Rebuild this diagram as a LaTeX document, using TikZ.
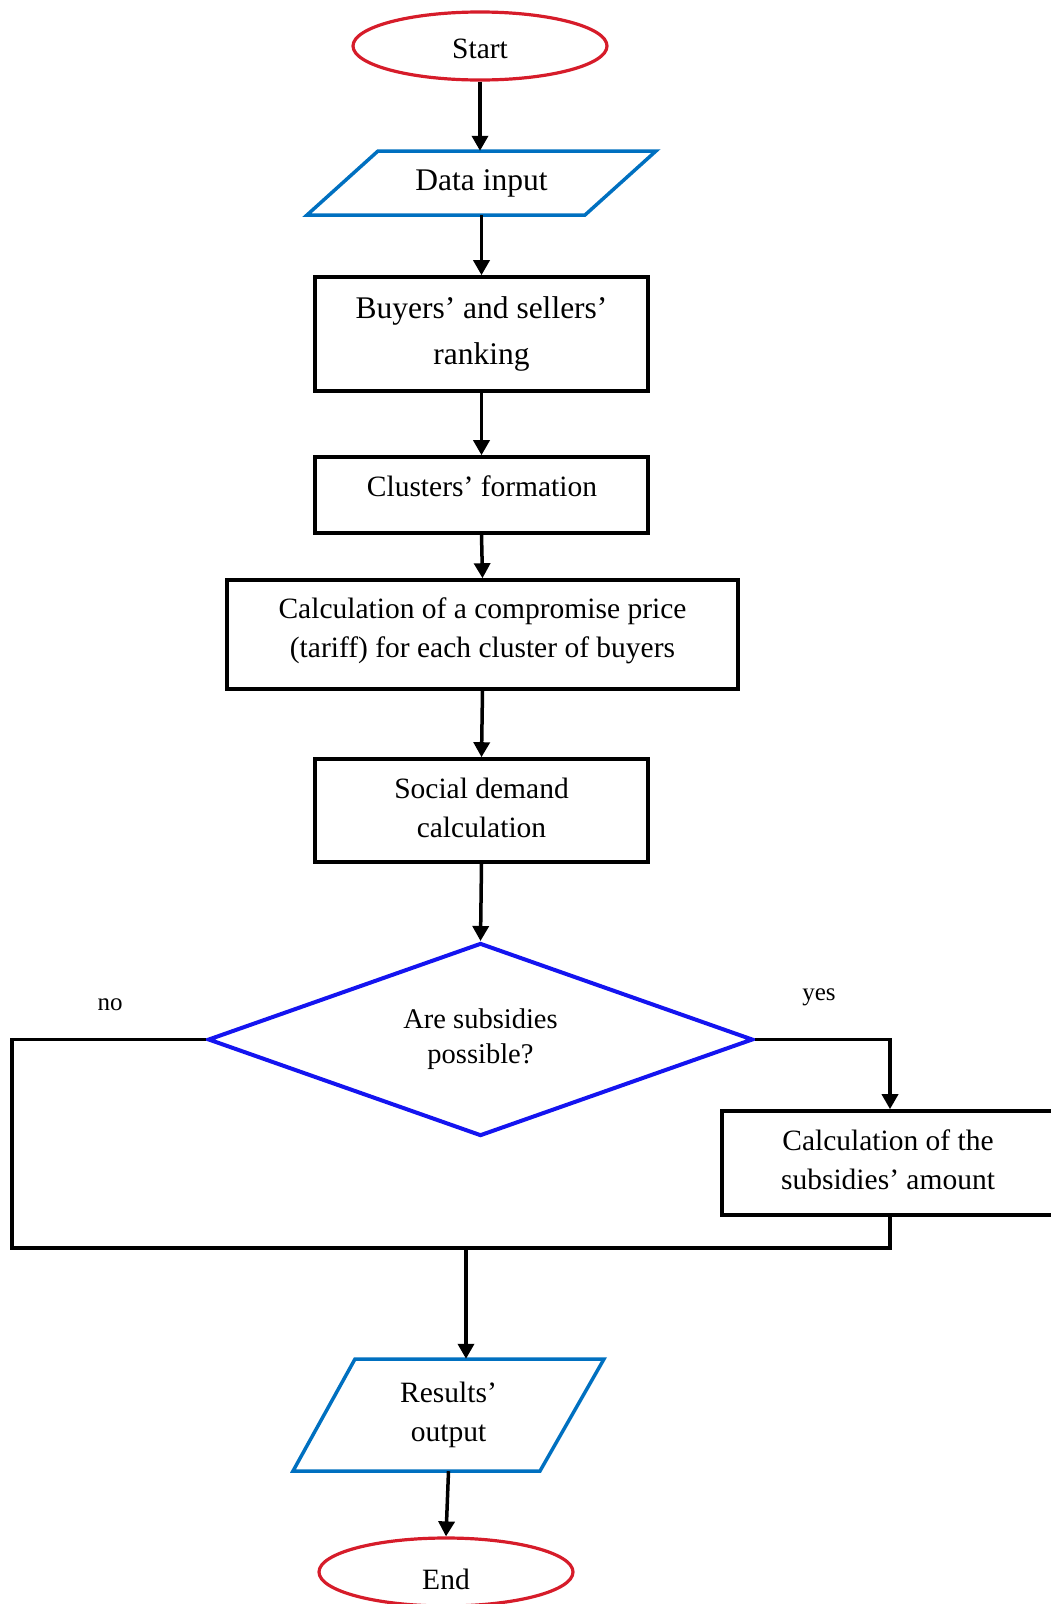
\documentclass[tikz,border=0pt]{standalone}
\usepackage{fontspec}
\setmainfont{Liberation Serif}
\usetikzlibrary{shapes.geometric,arrows.meta}
\definecolor{termred}{RGB}{214,28,42}
\definecolor{ioblue}{RGB}{0,112,192}
\definecolor{decblue}{RGB}{20,20,240}
\tikzset{
  txt/.style={font=\fontsize{29.5}{39}\selectfont, align=center, inner sep=0pt},
  bigtxt/.style={font=\fontsize{31.5}{46}\selectfont, align=center, inner sep=0pt},
  smalltxt/.style={font=\fontsize{25}{30}\selectfont, inner sep=0pt},
  term/.style={ellipse, draw=termred, line width=3.2pt, minimum width=254pt, minimum height=68pt, inner sep=0pt},
  io/.style={draw=ioblue, line width=3.5pt, line join=miter},
  procbox/.style={rectangle, draw=black, line width=3.6pt, inner sep=0pt},
  decision/.style={diamond, aspect=2.82, draw=decblue, line width=4pt, inner sep=0pt, minimum width=545pt, minimum height=193pt},
  conn/.style={line width=3.5pt, -{Triangle[length=15pt,width=16pt]}},
  plainline/.style={line width=3.2pt, line join=miter},
}
\begin{document}
\begin{tikzpicture}[x=1pt,y=-1pt]
\useasboundingbox (0,0) rectangle (1051,1604);

% Start
\node[term] (start) at (480,46) {};
\node[txt] (starttxt) at (480,49) {Start};

% Data input (parallelogram)
\node[bigtxt, minimum width=349pt, minimum height=64pt] (din) at (481.5,183) {Data input};
\draw[io] (378,151) -- (656,151) -- (585,215) -- (307,215) -- cycle;

% Buyers' and sellers' ranking
\node[procbox, bigtxt, minimum width=333pt, minimum height=114pt] (buy) at (481.5,334) {Buyers’ and sellers’\\ranking};

% Clusters' formation
\node[procbox, minimum width=333pt, minimum height=76pt] (clu) at (481.5,495) {};
\node[txt] (clutxt) at (482,486) {Clusters’ formation};

% Calculation of a compromise price
\node[procbox, minimum width=511pt, minimum height=109pt] (calc) at (482.5,634.5) {};
\node[txt] (calctxt) at (482.5,631) {Calculation of a compromise price\\(tariff) for each cluster of buyers};

% Social demand calculation
\node[procbox, minimum width=333pt, minimum height=103pt] (soc) at (481.5,810.5) {};
\node[txt] (soctxt) at (481.5,808) {Social demand\\calculation};

% Decision
\node[decision, font=\fontsize{28.5}{35}\selectfont, align=center] (dec) at (480.5,1039.5) {Are subsidies\\possible?};

% Calculation of the subsidies' amount
\node[procbox, minimum width=336pt, minimum height=104pt] (sub) at (890,1163) {};
\node[txt] (subtxt) at (888,1160) {Calculation of the\\subsidies’ amount};

% Results' output (parallelogram)
\node[txt, minimum width=311pt, minimum height=112pt] (res) at (448.5,1415) {Results’\\output};
\draw[io] (355,1359) -- (604,1359) -- (540,1471) -- (293,1471) -- cycle;

% End
\node[term] (end) at (446,1572) {};
\node[txt] (endtxt) at (446,1579) {End};

% labels
\node[smalltxt] (nolab) at (110,1005) {no};
\node[smalltxt] (yeslab) at (819,997) {yes};

% connectors
\draw[conn] (start.south) -- (start.south |- din.north);
\draw[conn] (din.south) -- (buy.north);
\draw[conn] (buy.south) -- (clu.north);
\draw[conn] (clu.south) -- (calc.north);
\draw[conn] (calc.south) -- (soc.north);
\draw[conn] (soc.south) -- (dec.north);
\draw[conn, line join=miter] (dec.east) -| (sub.north);
\coordinate (noc) at (12,1248);
\draw[plainline] (dec.west) -| (noc) -| (sub.south);
\coordinate (merge) at (466,1248);
\draw[conn] (merge) -- (merge |- res.north);
\draw[conn] (res.south) -- (end.north);
\end{tikzpicture}
\end{document}
